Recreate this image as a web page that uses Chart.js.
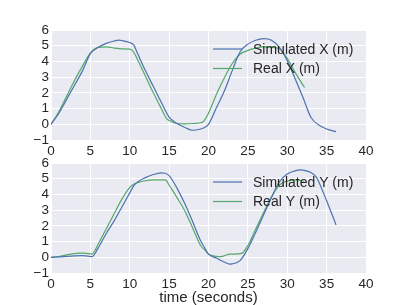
<!DOCTYPE html>
<html>
<head>
<meta charset="utf-8">
<title>Simulated vs Real</title>
<script src="https://cdn.jsdelivr.net/npm/chart.js@4/dist/chart.umd.min.js"></script>
<style>
  body { margin: 0; background: #fff; }
  #wrap { position: relative; width: 407px; height: 305px; }
  #wrap canvas { position: absolute; left: 0; top: 0; }
</style>
</head>
<body>
<div id="wrap">
  <canvas id="chartX" width="407" height="305"></canvas>
  <canvas id="chartY" width="407" height="305"></canvas>
</div>
<script>
// --- data (time in seconds, values in metres) ---
var simXTime = [0, 1, 2, 3, 4, 5, 6, 7, 8, 8.6, 9, 10, 10.5, 11, 12, 13, 14, 15, 16, 17, 18, 19, 19.5, 20, 21, 22, 23, 24, 25, 26, 27, 28, 29, 30, 31, 32, 33, 34, 35, 36.2];
var simX     = [0, 0.7, 1.6, 2.5, 3.4, 4.5, 4.9, 5.15, 5.3, 5.35, 5.33, 5.2, 5.05, 4.5, 3.4, 2.4, 1.4, 0.45, 0.05, -0.2, -0.38, -0.3, -0.2, 0.0, 1.05, 2.1, 3.4, 4.6, 5.1, 5.35, 5.45, 5.35, 4.9, 4.05, 2.9, 1.7, 0.45, -0.05, -0.3, -0.47];

var realXTime = [0, 1, 2, 3, 4, 5, 6, 7, 8, 9, 10, 10.5, 11, 12, 13, 14, 14.7, 15, 16, 17, 18, 19, 19.3, 20, 21, 22, 23, 24, 25, 26, 27, 28, 29, 30, 31, 32.2];
var realX     = [0, 0.8, 1.8, 2.8, 3.7, 4.55, 4.9, 4.93, 4.85, 4.8, 4.78, 4.6, 4.1, 3.05, 2.0, 1.0, 0.35, 0.25, 0.05, 0.03, 0.05, 0.1, 0.15, 0.7, 1.9, 2.95, 3.85, 4.46, 4.7, 4.85, 4.92, 4.9, 4.8, 4.2, 3.3, 2.34];

var simYTime = [0, 1, 2, 3, 4, 5, 5.2, 6, 7, 8, 9, 10, 10.5, 11, 12, 13, 14, 14.5, 15, 15.3, 16, 17, 18, 19, 19.6, 20, 21, 22, 22.7, 23, 24, 25, 26, 27, 28, 29, 30, 31, 31.6, 32, 33, 33.7, 34, 35, 36.2];
var simY     = [0, 0.02, 0.06, 0.09, 0.1, 0.05, 0.04, 0.6, 1.5, 2.3, 3.2, 4.1, 4.55, 4.8, 5.07, 5.27, 5.37, 5.35, 5.2, 5.0, 4.4, 3.4, 2.25, 1.05, 0.53, 0.2, -0.05, -0.3, -0.43, -0.42, -0.21, 0.55, 1.6, 2.7, 3.8, 4.8, 5.3, 5.5, 5.56, 5.55, 5.4, 5.1, 4.8, 3.6, 2.06];

var realYTime = [0, 1, 2, 3, 3.7, 4, 5, 5.2, 6, 7, 8, 9, 10, 10.5, 11, 12, 13, 14, 14.5, 14.7, 15, 16, 17, 18, 19, 19.6, 20, 21, 21.5, 22, 22.7, 24.2, 25, 26, 27, 28, 29, 30, 31, 32.1];
var realY     = [0, 0.05, 0.15, 0.23, 0.27, 0.27, 0.22, 0.2, 0.85, 1.8, 2.75, 3.7, 4.45, 4.65, 4.75, 4.87, 4.92, 4.93, 4.93, 4.84, 4.6, 3.8, 2.95, 1.85, 0.75, 0.42, 0.2, 0.06, 0.04, 0.1, 0.2, 0.25, 0.75, 1.8, 2.85, 3.85, 4.6, 4.85, 4.92, 4.84];

var xTickLimits = [0, 40];
var yTickLimits = [-1, 6];

var BLUE = '#4C72B0';
var GREEN = '#55A868';
var TEXT = '#262626';
var FONT = "'Liberation Sans', Arial, sans-serif";

function toPoints(ts, vs) {
    var pts = [];
    for (var i = 0; i < ts.length; i++) pts.push({x: ts[i], y: vs[i]});
    return pts;
}

// grey plot background like seaborn darkgrid
var bgPlugin = {
    id: 'bg',
    beforeDraw: function(chart) {
        var a = chart.chartArea, c = chart.ctx;
        c.save();
        c.fillStyle = '#EAEAF2';
        c.fillRect(a.left, a.top, a.right - a.left, a.bottom - a.top);
        c.restore();
    }
};

// legend drawn inside the plot, upper right, no frame
var insideLegend = {
    id: 'insideLegend',
    afterDatasetsDraw: function(chart) {
        var a = chart.chartArea, c = chart.ctx;
        c.save();
        c.font = '14px ' + FONT;
        c.textBaseline = 'middle';
        c.textAlign = 'left';
        chart.data.datasets.forEach(function(ds, i) {
            var y = a.top + 19 + i * 19.5;
            c.strokeStyle = ds.borderColor;
            c.lineWidth = 1.2;
            c.beginPath();
            c.moveTo(a.left + 162, y);
            c.lineTo(a.left + 191, y);
            c.stroke();
            c.fillStyle = TEXT;
            c.fillText(ds.label, a.left + 202, y + 1);
        });
        c.restore();
    }
};

function makeChart(id, sets, padTop, padBottom, xHeight, xTitle) {
    var ctx = document.getElementById(id).getContext('2d');
    return new Chart(ctx, {
        type: 'line',
        data: {
            datasets: sets.map(function(s) {
                return {
                    label: s.label,
                    data: s.data,
                    borderColor: s.color,
                    borderWidth: 1.2,
                    pointRadius: 0,
                    fill: false,
                    cubicInterpolationMode: 'monotone'
                };
            })
        },
        options: {
            responsive: false,
            animation: false,
            devicePixelRatio: 1,
            layout: { padding: { top: padTop, right: 41, bottom: padBottom, left: 0 } },
            plugins: { legend: { display: false }, tooltip: { enabled: false } },
            scales: {
                x: {
                    type: 'linear',
                    min: xTickLimits[0],
                    max: xTickLimits[1],
                    border: { display: false },
                    grid: { color: '#ffffff', lineWidth: 1, drawTicks: false },
                    ticks: { stepSize: 5, autoSkip: false, padding: 3, color: TEXT, font: { family: FONT, size: 13.5 }, maxRotation: 0 },
                    title: { display: !!xTitle, text: xTitle, color: TEXT, padding: { top: 0, bottom: -2 }, font: { family: FONT, size: 15 } },
                    afterFit: function(s) { s.height = xHeight; }
                },
                y: {
                    min: yTickLimits[0],
                    max: yTickLimits[1],
                    border: { display: false },
                    grid: { color: '#ffffff', lineWidth: 1, drawTicks: false },
                    ticks: {
                        stepSize: 1, autoSkip: false, padding: 2, color: TEXT, font: { family: FONT, size: 13.5 },
                        callback: function(v) { return v < 0 ? '\u2212' + Math.abs(v) : '' + v; }
                    },
                    afterFit: function(s) { s.width = 51; }
                }
            }
        },
        plugins: [bgPlugin, insideLegend]
    });
}

makeChart('chartX', [
    { label: 'Simulated X (m)', data: toPoints(simXTime, simX), color: BLUE },
    { label: 'Real X (m)', data: toPoints(realXTime, realX), color: GREEN }
], 30, 145, 20, '');

makeChart('chartY', [
    { label: 'Simulated Y (m)', data: toPoints(simYTime, simY), color: BLUE },
    { label: 'Real Y (m)', data: toPoints(realYTime, realY), color: GREEN }
], 163, 0, 32, 'time (seconds)');
</script>
</body>
</html>
